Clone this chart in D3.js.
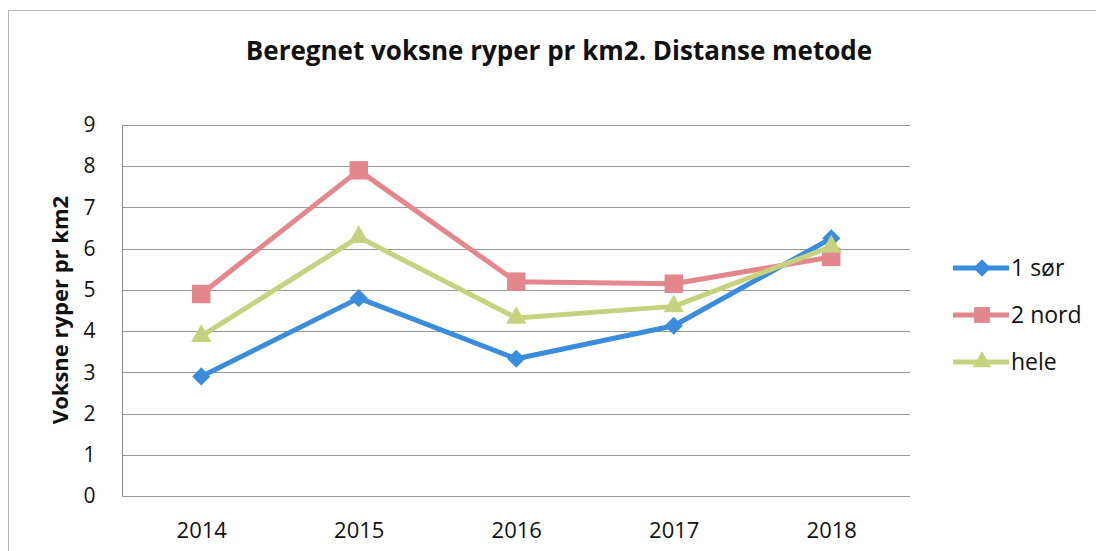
<!DOCTYPE html>
<html>
<head>
<meta charset="utf-8">
<script src="https://cdn.jsdelivr.net/npm/d3@7"></script>
<style>
  body { margin: 0; background: #fff; }
  svg text { font-family: "Open Sans", "Noto Sans", sans-serif; fill: #111; }
</style>
</head>
<body>
<div id="chart"></div>
<script>
// data
var years = ["2014", "2015", "2016", "2017", "2018"];
var sor = [2.9, 4.8, 3.33, 4.13, 6.25];
var nord = [4.9, 7.9, 5.2, 5.15, 5.8];
var hele = [3.88, 6.28, 4.32, 4.6, 6.05];
var yTicks = [0, 1, 2, 3, 4, 5, 6, 7, 8, 9];
var seriesNames = ["1 sør", "2 nord", "hele"];

var width = 1096, height = 551;

// excel style diamond: a square turned 45 degrees, as wide as it is tall
var diamond = {
    draw: function(ctx, size) {
        var r = Math.sqrt(size / 2);
        ctx.moveTo(0, -r);
        ctx.lineTo(r, 0);
        ctx.lineTo(0, r);
        ctx.lineTo(-r, 0);
        ctx.closePath();
    }
};

var series = [
    {name: seriesNames[0], values: sor, color: "#3a8cdc", shape: diamond, size: 165, lsize: 150},
    {name: seriesNames[1], values: nord, color: "#e3878c", shape: d3.symbolSquare, size: 340, lsize: 250},
    {name: seriesNames[2], values: hele, color: "#c7d27e", shape: d3.symbolTriangle, size: 180, lsize: 150}
];

var svg = d3.select("#chart").append("svg")
    .attr("width", width)
    .attr("height", height);

// outer chart border
svg.append("rect")
    .attr("x", 8.5).attr("y", 10.5)
    .attr("width", 1100).attr("height", 560)
    .attr("fill", "none")
    .attr("stroke", "#b5b5b5");

var plot = {left: 122.5, right: 910, top: 125, bottom: 496};

var x = d3.scalePoint()
    .domain(years)
    .range([plot.left, plot.right])
    .padding(0.5);

var y = d3.scaleLinear()
    .domain([0, 9])
    .range([plot.bottom, plot.top]);

// gridlines
svg.append("g")
    .selectAll("line")
    .data(yTicks)
    .enter().append("line")
    .attr("x1", plot.left).attr("x2", plot.right)
    .attr("y1", function(d) { return Math.round(y(d)) + 0.5; })
    .attr("y2", function(d) { return Math.round(y(d)) + 0.5; })
    .attr("stroke", "#979797")
    .attr("stroke-width", 1);

// left axis line
svg.append("line")
    .attr("x1", plot.left).attr("x2", plot.left)
    .attr("y1", plot.top).attr("y2", plot.bottom + 0.5)
    .attr("stroke", "#8a8a8a");

// y tick labels
var yAxis = svg.append("g")
    .attr("transform", "translate(" + plot.left + ",0)")
    .call(d3.axisLeft(y).tickValues(yTicks).tickSize(0).tickPadding(27));
yAxis.select(".domain").remove();
yAxis.selectAll("text")
    .style("font-size", "21px")
    .attr("fill", "#111");

// x tick labels
var xAxis = svg.append("g")
    .attr("transform", "translate(0," + plot.bottom + ")")
    .call(d3.axisBottom(x).tickSize(0).tickPadding(26));
xAxis.select(".domain").remove();
xAxis.selectAll("text")
    .style("font-size", "22px")
    .attr("fill", "#111");

// title
svg.append("text")
    .attr("x", 559)
    .attr("y", 60)
    .attr("text-anchor", "middle")
    .attr("font-weight", "bold")
    .style("font-size", "26px")
    .text("Beregnet voksne ryper pr km2. Distanse metode");

// y axis label
svg.append("text")
    .attr("transform", "translate(68,310) rotate(-90)")
    .attr("text-anchor", "middle")
    .attr("font-weight", "bold")
    .style("font-size", "22px")
    .text("Voksne ryper pr km2");

var line = d3.line()
    .x(function(d, i) { return x(years[i]); })
    .y(function(d) { return y(d); });

// series in excel order, so "hele" ends up on top
series.forEach(function(s) {
    svg.append("path")
        .datum(s.values)
        .attr("d", line)
        .attr("fill", "none")
        .attr("stroke", s.color)
        .attr("stroke-width", 5)
        .attr("stroke-linejoin", "round");

    svg.append("g")
        .selectAll("path")
        .data(s.values)
        .enter().append("path")
        .attr("transform", function(d, i) { return "translate(" + x(years[i]) + "," + y(d) + ")"; })
        .attr("d", d3.symbol().type(s.shape).size(s.size))
        .attr("fill", s.color);
});

// legend
var legend = svg.append("g")
    .selectAll("g")
    .data(series)
    .enter().append("g")
    .attr("transform", function(d, i) { return "translate(953," + (268 + i * 47) + ")"; });

legend.append("line")
    .attr("x1", 0).attr("x2", 56)
    .attr("stroke", function(d) { return d.color; })
    .attr("stroke-width", 5);

legend.append("path")
    .attr("transform", "translate(29,0)")
    .attr("d", function(d) { return d3.symbol().type(d.shape).size(d.lsize)(); })
    .attr("fill", function(d) { return d.color; });

legend.append("text")
    .attr("x", 58)
    .attr("dy", "0.35em")
    .style("font-size", "23px")
    .text(function(d) { return d.name; });
</script>
</body>
</html>
